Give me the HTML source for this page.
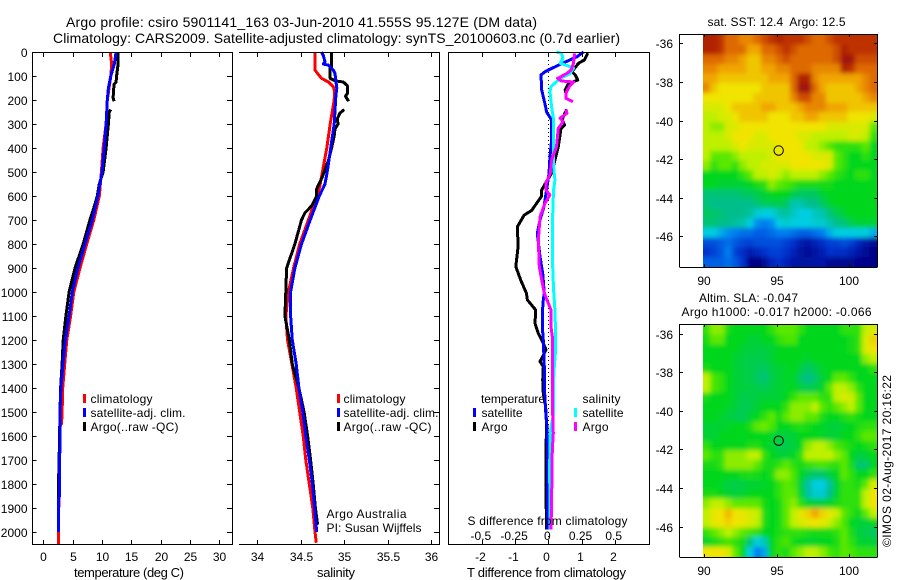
<!DOCTYPE html>
<html><head><meta charset="utf-8"><title>Argo profile</title>
<style>
html,body{margin:0;padding:0;background:#fff;width:900px;height:580px;overflow:hidden}
svg{display:block}
text{font-family:"Liberation Sans",sans-serif;font-size:12px;fill:#000}
.t{font-size:14px}
.lab{font-size:13px}
</style></head><body>
<svg id="chart" width="900" height="580" viewBox="0 0 900 580" xmlns="http://www.w3.org/2000/svg">
<defs>
<filter id="soft" filterUnits="userSpaceOnUse" x="640" y="0" width="260" height="580"><feGaussianBlur stdDeviation="2.4"/></filter>
<clipPath id="clip1"><rect x="703" y="35" width="174" height="232"/></clipPath>
<clipPath id="clip2"><rect x="703" y="325" width="174" height="232"/></clipPath>
</defs>
<rect x="0" y="0" width="900" height="580" fill="#fff"/>
<text class="t" x="66" y="27" textLength="471" lengthAdjust="spacing">Argo profile: csiro 5901141_163 03-Jun-2010 41.555S 95.127E (DM data)</text>
<text class="t" x="53" y="43" textLength="567" lengthAdjust="spacing">Climatology: CARS2009. Satellite-adjusted climatology: synTS_20100603.nc (0.7d earlier)</text>
<g clip-path="url(#clip1)"><g id="heat1" filter="url(#soft)"></g></g>
<g clip-path="url(#clip2)"><g id="heat2" filter="url(#soft)"></g></g>
<g id="marks"></g>
<g id="axes" stroke="#000" stroke-width="1" shape-rendering="crispEdges"></g>
<g id="ticklabels"></g>

<text class="lab" x="74" y="577" textLength="110" lengthAdjust="spacing">temperature (deg C)</text>
<text class="lab" x="317" y="577" textLength="38" lengthAdjust="spacing">salinity</text>
<text class="lab" x="467" y="577" textLength="159" lengthAdjust="spacing">T difference from climatology</text>
<text x="467.5" y="525" textLength="160" lengthAdjust="spacing">S difference from climatology</text>

<g>
<rect x="83" y="394" width="3" height="9" fill="#f00"/>
<rect x="83" y="408" width="3" height="9" fill="#00f"/>
<rect x="83" y="422" width="3" height="9" fill="#000"/>
<text x="90.5" y="403" textLength="62" lengthAdjust="spacing">climatology</text>
<text x="90.5" y="417" textLength="95" lengthAdjust="spacing">satellite-adj. clim.</text>
<text x="90.5" y="431" textLength="88" lengthAdjust="spacing">Argo(..raw -QC)</text>
</g>
<g>
<rect x="337" y="394" width="3" height="9" fill="#f00"/>
<rect x="337" y="408" width="3" height="9" fill="#00f"/>
<rect x="337" y="422" width="3" height="9" fill="#000"/>
<text x="343.5" y="403" textLength="62" lengthAdjust="spacing">climatology</text>
<text x="343.5" y="417" textLength="95" lengthAdjust="spacing">satellite-adj. clim.</text>
<text x="343.5" y="431" textLength="88" lengthAdjust="spacing">Argo(..raw -QC)</text>
<text x="326.5" y="518" textLength="80" lengthAdjust="spacing">Argo Australia</text>
<text x="326.5" y="532" textLength="95" lengthAdjust="spacing">PI: Susan Wijffels</text>
</g>
<g>
<text x="481" y="403" textLength="64" lengthAdjust="spacing">temperature</text>
<text x="582.5" y="403" textLength="38" lengthAdjust="spacing">salinity</text>
<rect x="473" y="408" width="3" height="9" fill="#00f"/>
<rect x="473" y="422" width="3" height="9" fill="#000"/>
<rect x="574" y="408" width="3" height="9" fill="#0ff"/>
<rect x="574" y="422" width="3" height="9" fill="#f0f"/>
<text x="481.5" y="417" textLength="41" lengthAdjust="spacing">satellite</text>
<text x="481.5" y="431" textLength="26" lengthAdjust="spacing">Argo</text>
<text x="582.5" y="417" textLength="41" lengthAdjust="spacing">satellite</text>
<text x="582.5" y="431" textLength="26" lengthAdjust="spacing">Argo</text>
</g>

<text x="707.5" y="26" xml:space="preserve" textLength="138" lengthAdjust="spacing">sat. SST: 12.4  Argo: 12.5</text>
<text x="699" y="302" textLength="99" lengthAdjust="spacing">Altim. SLA: -0.047</text>
<text x="681.5" y="316" textLength="190" lengthAdjust="spacing">Argo h1000: -0.017 h2000: -0.066</text>
<text x="0" y="0" transform="translate(891,547) rotate(-90)" textLength="172" lengthAdjust="spacing">©IMOS 02-Aug-2017 20:16:22</text>
</svg>
<script>
// ---- profile data -------------------------------------------------------
const depthTicks = [0,100,200,300,400,500,600,700,800,900,1000,1100,1200,1300,1400,1500,1600,1700,1800,1900,2000];
const tempTicks = [0,5,10,15,20,25,30];
const salTicks = [34,34.5,35,35.5,36];
const salTickLabels = ['34','34.5','35','35.5','36'];
const tDiffTicks = [-2,-1,0,1,2];
const tDiffLabels = ['-2','-1','0','1','2'];
const sDiffTicks = [-0.5,-0.25,0,0.25,0.5];
const sDiffLabels = ['-0.5','-0.25','0','0.25','0.5'];
const lonTicks = [90,95,100];
const latTicks = [-36,-38,-40,-42,-44,-46];
const floatLon = 95.127;
const floatLat = -41.555;

const climTempDepth = [0,50,100,200,300,400,500,600,700,800,900,1000,1100,1200,1300,1400,1500,1550,1551,2000,2050];
const climTemp = [11.4,11.65,11.5,10.9,10.7,10.2,9.9,9.55,8.6,7.4,6.25,5.2,4.65,4,3.65,3.3,3.2,3.1,2.9,2.55,2.55];
const satTempDepth = [0,50,100,150,200,300,400,500,600,700,800,900,1000,1100,1200,1300,1400,1500,1650,1700,1850,1870,2000];
const satTemp = [12.4,12.1,11.5,11.1,10.9,10.7,10.4,10,9.3,8.35,7.1,5.9,4.95,4.4,3.75,3.35,3,2.85,2.85,2.75,2.75,2.55,2.55];
const argoTempDepth = [5,60,100,125,135,190,205,222,240,250,300,400,500,550,600,650,700,800,900,1000,1100,1200,1300,1400,1500,1640,1840,1990];
const argoTemp = [12.7,12.7,12.5,12.4,12.05,11.9,12.05,null,11.5,11.25,11.1,10.7,10.2,9.55,9.2,8.6,7.95,6.8,5.4,4.4,3.85,3.4,3.2,2.95,2.85,2.75,2.55,2.55];

const climSalDepth = [0,75,85,110,125,145,165,200,300,400,500,560,600,700,800,900,1000,1100,1200,1300,1400,1500,1600,1700,1800,1900,2000,2045];
const climSal = [34.665,34.665,34.685,34.74,34.82,34.875,34.89,34.885,34.84,34.8,34.75,34.72,34.685,34.59,34.49,34.42,34.36,34.33,34.35,34.4,34.45,34.49,34.53,34.56,34.6,34.64,34.665,34.68];
const satSalDepth = [0,15,40,50,55,75,90,150,180,300,400,500,550,600,700,800,900,1000,1100,1200,1300,1400,1500,1600,1700,1800,1900,2000];
const satSal = [34.74,34.76,34.78,34.76,34.82,34.875,34.895,34.915,34.905,34.885,34.845,34.805,34.78,34.715,34.61,34.51,34.435,34.385,34.385,34.405,34.45,34.48,34.525,34.56,34.6,34.635,34.66,34.685];
const argoSalDepth = [5,60,65,110,120,125,140,170,185,205,222,240,255,280,300,320,350,400,450,520,570,580,600,640,670,700,800,900,1000,1100,1200,1300,1400,1500,1600,1700,1800,1900,1970];
const argoSal = [34.855,34.855,34.84,34.84,34.895,34.99,35.035,35.04,35.015,35.05,null,35,34.95,34.92,34.93,34.895,34.885,34.855,34.82,34.75,34.685,34.68,34.685,34.63,34.55,34.51,34.435,34.34,34.33,34.32,34.37,34.405,34.48,34.54,34.58,34.615,34.645,34.67,34.695];

const diffSatTDepth = [0,20,55,82,96,158,228,250,283,367,436,506,575,644,700,755,853,922,1005,1033,1089,1144,1200,1311,1394,1519,1561,1728,1990];
const diffSatT = [1.06,0.86,0.3,-0.1,-0.22,-0.2,-0.08,-0.05,0.1,0.1,0.05,0.02,-0.05,-0.13,-0.25,-0.33,-0.25,-0.17,-0.12,-0.15,-0.18,-0.18,-0.15,-0.12,-0.12,-0.07,-0.04,-0.02,-0.02];
const diffArgoTDepth = [5,33,47,82,96,117,131,158,170,205,239,280,305,320,395,450,505,550,575,600,630,660,680,728,811,894,950,1005,1033,1075,1130,1172,1214,1241,1290,1311,1366,1422,1477,1547,1658,1728,1839,1990];
const diffArgoT = [1.19,1.09,0.91,0.71,0.81,0.89,0.61,0.51,0.52,null,0.55,0.42,0.49,0.38,0.3,0.2,0.1,-0.1,-0.2,-0.2,-0.35,-0.5,-0.73,-0.93,-0.91,-0.98,-0.83,-0.66,-0.63,-0.38,-0.4,-0.3,-0.15,-0.07,-0.25,-0.15,-0.17,-0.15,-0.08,-0.05,-0.07,-0.07,-0.07,-0.05];
const diffSatSDepth = [0,6,26,47,58,68,89,110,144,165,228,283,367,478,533,575,644,755,853,992,1075,1172,1241,1311,1366,1505,1547,1589,1728,1866,1990];
const diffSatS = [0.06,0.1,0.11,0.09,0.15,0.19,0.165,0.09,0.02,0.013,0.025,0.04,0.04,0.04,0.05,0.04,0.035,0.03,0.03,0.04,0.05,0.055,0.055,0.045,0.04,0.04,0.025,0.015,0.01,0.012,0.012];
const diffArgoSDepth = [6,47,75,89,110,121,125,144,172,193,207,222,239,256,276,290,318,394,450,506,547,575,596,630,686,783,894,950,1005,1075,1144,1186,1283,1450,1589,1658,1866,1990];
const diffArgoS = [0.198,0.19,0.172,0.14,0.07,0.1,0.19,0.158,0.132,0.132,0.185,null,0.132,0.14,0.088,0.112,0.075,0.062,0.025,0.015,-0.018,-0.018,0.012,-0.025,-0.062,-0.075,-0.068,-0.05,-0.03,0.02,0.02,0.03,0.03,0.03,0.038,0.03,0.025,0.02];

// ---- map data: colour index by row (north to south), column (west to east) ----
const sstGrid = [
[11.5,11.5,11,10,10,9.5,9.5,10,10.5,11,11.5,11,11,11,10.5,10,10,10.5,11,11,11,11,11,11],
[11.5,11.5,11,10,10,10,9,9,10,10,10.5,11,10.5,10,10,10,10,10,10.5,11.5,11,11,11,11],
[10,10,10,9.5,9.5,9,8.5,8.5,9.5,9.5,10,10.5,10,10,10,10,10,10,10.5,12,12,10.5,10.5,10.5],
[9.5,9.5,9,9,9,9,8.5,8.5,9,9,9.5,9.5,10,10,10,9.5,9.5,9.5,9.5,11.5,11,10,10,10],
[9,9,8.5,8.5,8.5,8.5,8.5,8.5,8.5,9,9,9,10,11.5,11.5,9.5,9,9,9,9,9,9,9.5,10],
[9.5,8.5,8,8,8,8,8,8,8.5,8.5,8.5,8.5,10,12,12,10,9,8.5,8.5,8.5,8.5,9,9.5,10],
[8,8,8,8,8,8,8,8.5,8.5,8.5,8.5,8.5,9.5,10.5,10.5,9.5,9.5,8.5,8.5,8.5,8.5,8.5,9,9.5],
[7.5,7.5,7.5,8,8.5,8.5,8.5,8.5,9,9,8.5,8.5,8.5,9,9.5,9.5,9.5,9,9,9,8.5,8.5,8.5,8.5],
[7,7,7.5,7.5,8,8.5,8.5,8.5,8.5,8,8,8,8.5,8.5,9,9,8.5,8.5,8.5,8.5,8,8,8,7.5],
[7,6.5,6.5,7.5,7.5,8,8,8,8,8,8,8,8,8,8,8,8,7.5,7.5,7.5,7.5,7.5,7.5,6],
[7,7,7,7.5,8,8,8,7.5,7.5,8,8,8,8,7.5,7.5,7,7,7,7,7,7.5,7.5,7,5.5],
[7,7,7,7,7.5,8,7.5,7.5,7.5,7.5,8,8,8,8,7,7,6.5,6,5.5,5.5,5.5,5.5,6,5],
[7,6,6,6,6.5,7,7,7,7,7.5,8,8,8,8,8,7.5,7.5,7.5,6,5.5,5,5,5.5,5],
[6.5,5.5,6,6,5.5,6.5,7,7,7.5,7.5,7.5,7.5,8,8,8,8,8,7.5,6,5.5,5,5,5,5],
[5,5,5,5,5,5.5,6,7,7,7.5,7,6.5,7,7,7,7,6.5,6,5.5,5.2,5,5.5,5.5,5],
[5,5,4.8,4.8,4.8,4.8,5,5.2,5.5,6.5,6,5.8,5.5,5.2,5.2,5.2,5.2,5.2,5,5,5,5,5,5],
[4.2,4.2,4.2,4.2,4.2,4.4,4.4,4.6,4.8,5,5,5,4.6,4.4,4.4,4.4,4.8,5,5,5,5,5,5,5],
[4.2,4,4,4,4,4,4,4.2,4.5,4.5,4.6,4.4,3.6,3.6,4,4,4.4,4.8,5,5,5,5,5,5],
[4.4,4.3,4.2,4,4,4,3.8,3.2,3,3,3.6,3.8,3.4,3,3,3.4,3.6,4.2,4.5,4.8,5,5,5,5],
[4.2,4.2,4,4,3.8,3.6,3,2.2,2,2.2,3,3.2,3,3,3,3.2,3.2,3.6,4,4.2,4.6,4.8,4.8,4.8],
[3,3,2.6,2.2,2,1.8,1.8,1.6,1.6,1.8,2,2,1.8,1.6,1.6,1.8,2,2.6,3,3,3,3,3,2.6],
[1.4,1.4,1.6,1.8,1.5,1.3,1.2,1.4,1.4,1.4,1.4,1.2,1,0.6,0.5,0.7,0.9,1.2,1.2,1.4,1.2,0.8,0.5,0.3],
[1,1.2,1.5,2,1.2,0.9,0.6,0.8,1,1.2,1.2,1,0.7,0.4,0.3,0.4,0.6,1,0.9,0.9,0.7,0.5,0.2,0.1],
[1.6,1.6,1.6,1.8,1.5,1,0.1,0,0.2,0.8,1,0.7,0.5,0.4,0.4,0.5,0.5,0.2,0.2,0.2,0.2,0.1,0.1,0.1]
];
const slaGrid = [
[5.5,6.5,6.5,5.2,5,5,5,5,5,5.5,6,6,6,5.5,5,5,5,5,5,5.5,5.5,5.5,7,7.5],
[5.2,6,6,5,5,5,4.8,4.8,5,5,5.5,5.8,5.8,5,5,5,5,5,5,5,5.2,5.5,7.5,8.3],
[5,5,5,5,5,4.8,4.7,4.7,4.7,4.8,5,5,5,5,5,5,5,5,5,5,5.2,5.5,7.5,8],
[5,5,5,5,4.8,4.7,4.6,4.6,4.6,4.8,5,5,5,5,4.8,5,5,5,5,5,5,5,6.5,7],
[5.2,5,5,5,4.8,4.7,4.6,4.5,4.4,4.7,4.8,4.9,5,4.7,4.4,4.6,4.9,5,5,5,5,5,5,5.5],
[7,5.8,5.5,5,4.8,4.7,4.6,4.4,4.2,4.6,4.8,4.9,4.9,4.4,4,4.3,4.8,5,6,6,5.5,5,5,5],
[7,5.8,5.5,5,4.8,4.7,4.7,4.6,4.5,4.7,4.8,4.9,5,4.7,4.5,4.6,4.9,6,7,7,6.5,5.5,5,5],
[5.2,5,5,5,4.8,4.6,4.6,4.7,4.8,4.8,4.8,5,5.5,6,6,6,5.5,5.5,7,7.5,7.3,6,5,5],
[5,5,5,4.9,4.7,4.5,4.6,4.8,5,5,5,5.5,6.5,6.5,6.5,7,6,5.5,6,6.5,7,6,5,5],
[5,5,4.9,4.7,4.6,4.5,4.8,5,5.5,6,5.2,6,6.5,6.5,6,6,5.3,5,5,5.3,5.5,5.2,5,5],
[4.8,4.8,4.8,4.9,5,5,5.3,6,6.2,5.8,5,5,5.2,5.4,5.2,5,4.9,4.8,4.7,4.9,5,5.3,5.5,5.5],
[4.8,4.8,5,5,5,5,5,5,5,4.9,4.7,4.7,4.8,5,5,5,4.9,4.8,4.8,5,5,5.5,6,6],
[5.5,5,5,5,5,5,5.3,5.3,5,4.8,4.6,4.6,4.7,5,6.5,7,7,6.5,5.8,5.5,5.2,5,5.2,5.5],
[6,5.5,5.5,6.5,6.5,6.5,7,7,5.5,5,4.8,4.8,4.9,5.5,7,7,7,7.2,6.5,6,5,4.7,4.8,5],
[5.2,5.2,5.5,6.5,6.5,6.5,6.5,6,5.3,5.2,5.5,6,5.5,5.2,5.5,5.7,5.8,5.6,5.5,6,5.2,4.3,4.3,5],
[5,5,5,5,5,5.2,5.3,5.2,5,5.3,6.5,6.5,5.8,5,4.5,4.3,4.3,4.7,5,6,5.5,5,5,5.5],
[5,5,4.9,4.7,4.6,4.7,4.8,4.8,4.9,5,5.5,6,5.8,4.8,3.8,3,3,3.8,4.8,5.5,5.5,5.2,6,7.5],
[5.2,5.2,5,4.8,4.7,4.8,5,5,5,5,5.5,6,6,4.9,3.8,3.2,3.2,4,4.9,5.5,5.5,5.5,7,8],
[6.5,7,7,6.5,6,6,6,6,5.2,5,5.2,6,6.5,5.5,4.9,4.7,4.7,4.9,5.2,5.5,5.5,5.5,7,8],
[7,7.8,8,8.7,8,7.8,7.5,7.2,5.3,5,5.2,6,7,7.8,8.3,9,8.3,7.8,7.2,6,5.5,5,6,7],
[7,7.8,8,8.3,8,7.8,7.5,7,5.3,5,5.2,6,7,7.5,7.8,8,7.8,7.2,6.5,5.8,5,4.8,4.7,5],
[5.5,6,6.5,7,6.5,6,5.7,5.5,5,5,5.3,5.5,5.5,5.5,5.3,5.2,5.2,5.2,5.5,6,5.3,4.7,4.6,4.4],
[4.9,5.2,5.5,5.8,5.5,5.2,4.2,3,3.5,5,5.5,5.8,5.2,5,4.9,4.9,5,5,5.3,6,5.5,4.9,4.8,4.8],
[8,8,8,7.5,6,5,3,2,2.5,5,5.5,5.2,6,6.5,7,7,6.5,5.8,5.5,6,5.8,5.5,5.5,5.5]
];

// ---- scales -------------------------------------------------------------
const SVGNS = 'http://www.w3.org/2000/svg';
function yDepth(d){ return 52 + 0.24*d; }
function xTemp(v){ return 43.3 + 5.867*v; }
function xSal(v){ return 257 + 87.2*(v-34); }
function xTDiff(v){ return 548.3 + 33.2*v; }
function xSDiff(v){ return 548.3 + 132.8*v; }
function xLon(v){ return 704.3 + 14.5*(v-90); }
function yLat1(v){ return 43.3 + 19.3*(-36-v); }
function yLat2(v){ return 333.5 + 19.3*(-36-v); }
function mk(tag, attrs, parent){
  const e = document.createElementNS(SVGNS, tag);
  for (const k in attrs) e.setAttribute(k, attrs[k]);
  parent.appendChild(e);
  return e;
}

// ---- colormap -----------------------------------------------------------
function cmap(v){
  const c = [[0,0,130],[0,50,205],[0,125,240],[0,205,225],[0,190,140],[0,215,30],[90,232,0],[190,240,0],[240,228,0],[240,165,0],[222,105,0],[190,50,0],[160,20,10]];
  const t = Math.max(0, Math.min(12, v));
  const i = Math.min(11, Math.floor(t));
  const f = t - i;
  const out = [0,1,2].map(function(k){ return Math.round(c[i][k] + (c[i+1][k]-c[i][k])*f); });
  return 'rgb(' + out.join(',') + ')';
}

// ---- heatmaps: outer ring of cells repeats the edge so the blur does not fade at the clip ----
function drawHeat(gid, grid, left, top, w, h, nameBase){
  const g = document.getElementById(gid);
  const rows = grid.length;
  const cols = grid[0].length;
  const pad = 2;
  for (let r = -pad; r < rows + pad; r++) {
    for (let c = -pad; c < cols + pad; c++) {
      const v = grid[Math.max(0, Math.min(rows-1, r))][Math.max(0, Math.min(cols-1, c))];
      const x0 = left + w*c/cols, x1 = left + w*(c+1)/cols;
      const y0 = top + h*r/rows, y1 = top + h*(r+1)/rows;
      const cell = mk('rect', {x:x0.toFixed(2), y:y0.toFixed(2), width:(x1-x0+0.4).toFixed(2), height:(y1-y0+0.4).toFixed(2), fill:cmap(v), 'shape-rendering':'crispEdges'}, g);
      
      
    }
  }
}
drawHeat('heat1', sstGrid, 703, 35, 173.5, 231.5, 'sst-cell');
drawHeat('heat2', slaGrid, 703, 325, 173.5, 231.5, 'sla-cell');

// ---- profile lines ------------------------------------------------------
const marks = document.getElementById('marks');
function drawLine(depths, values, xf, color, name){
  let seg = [];
  function flush(){
    if (seg.length > 1) {
      const line = mk('polyline', {points:seg.join(' '), fill:'none', stroke:color, 'stroke-width':3, 'stroke-linejoin':'round', 'shape-rendering':'crispEdges'}, marks);
      
      
    }
    seg = [];
  }
  depths.forEach(function(d, i){
    if (values[i] === null) { flush(); }
    else { seg.push(xf(values[i]).toFixed(1) + ',' + yDepth(d).toFixed(1)); }
  });
  flush();
}
const zeroLine = mk('line', {x1:xTDiff(0), x2:xTDiff(0), y1:52, y2:545, stroke:'#000', 'stroke-width':1, 'stroke-dasharray':'1 3', 'shape-rendering':'crispEdges'}, marks);



drawLine(climTempDepth, climTemp, xTemp, '#f00', 'temperature-climatology-line');
drawLine(argoTempDepth, argoTemp, xTemp, '#000', 'temperature-argo-line');
drawLine(satTempDepth, satTemp, xTemp, '#00f', 'temperature-satellite-line');
drawLine(climSalDepth, climSal, xSal, '#f00', 'salinity-climatology-line');
drawLine(argoSalDepth, argoSal, xSal, '#000', 'salinity-argo-line');
drawLine(satSalDepth, satSal, xSal, '#00f', 'salinity-satellite-line');
drawLine(diffArgoTDepth, diffArgoT, xTDiff, '#000', 't-difference-argo-line');
drawLine(diffSatTDepth, diffSatT, xTDiff, '#00f', 't-difference-satellite-line');
drawLine(diffSatSDepth, diffSatS, xSDiff, '#0ff', 's-difference-satellite-line');
drawLine(diffArgoSDepth, diffArgoS, xSDiff, '#f0f', 's-difference-argo-line');

// ---- axes ---------------------------------------------------------------
const axes = document.getElementById('axes');
const labelsG = document.getElementById('ticklabels');
function seg(x1,y1,x2,y2,name){
  const l = mk('line', {x1:x1, y1:y1, x2:x2, y2:y2}, axes);
  
  
}
function lab(x,y,s,anchor,name){
  const t = mk('text', {x:x, y:y, 'text-anchor':anchor}, labelsG);
  t.textContent = s;
  
  
}
// temperature panel frame
seg(32.5,52.5,232.5,52.5,'temperature-panel-top');
seg(32.5,544.5,232.5,544.5,'temperature-panel-bottom');
seg(32.5,52,32.5,545,'temperature-panel-left');
seg(232.5,52,232.5,545,'temperature-panel-right');
// salinity panel frame (no left spine)
seg(239,52.5,439.5,52.5,'salinity-panel-top');
seg(239,544.5,439.5,544.5,'salinity-panel-bottom');
seg(439.5,52,439.5,545,'salinity-panel-right');
// difference panel frame
seg(448.5,52.5,649.5,52.5,'difference-panel-top');
seg(448.5,544.5,649.5,544.5,'difference-panel-bottom');
seg(448.5,52,448.5,545,'difference-panel-left');
seg(649.5,52,649.5,545,'difference-panel-right');

depthTicks.forEach(function(d){
  const y = Math.round(yDepth(d)) + 0.5;
  seg(32.5,y,36.5,y,'depth-tick-left');
  seg(227,y,232.5,y,'depth-tick-right');
  seg(434,y,439.5,y,'depth-tick-right-salinity');
  lab(27.5,y+4.5,String(d),'end','depth-tick-label');
});
tempTicks.forEach(function(v){
  const x = Math.round(xTemp(v)) + 0.5;
  seg(x,52,x,57,'temperature-tick-top');
  seg(x,540,x,545,'temperature-tick-bottom');
  lab(x,561,String(v),'middle','temperature-tick-label');
});
salTicks.forEach(function(v,i){
  const x = Math.round(xSal(v)) + 0.5;
  seg(x,52,x,57,'salinity-tick-top');
  seg(x,540,x,545,'salinity-tick-bottom');
  lab(x,561,salTickLabels[i],'middle','salinity-tick-label');
});
tDiffTicks.forEach(function(v,i){
  const x = Math.round(xTDiff(v)) + 0.5;
  seg(x,52,x,57,'t-difference-tick-top');
  seg(x,540,x,545,'t-difference-tick-bottom');
  lab(x-2,561,tDiffLabels[i],'middle','t-difference-tick-label');
});
sDiffTicks.forEach(function(v,i){
  lab(xSDiff(v)-1,540,sDiffLabels[i],'middle','s-difference-tick-label');
});

function mapFrame(top,bottom,yf,prefix){
  seg(679.5,top+0.5,877.5,top+0.5,prefix+'-map-top');
  seg(679.5,bottom+0.5,877.5,bottom+0.5,prefix+'-map-bottom');
  seg(679.5,top,679.5,bottom,prefix+'-map-left');
  seg(877.5,top,877.5,bottom,prefix+'-map-right');
  lonTicks.forEach(function(v){
    const x = Math.round(xLon(v)) + 0.5;
    seg(x,top,x,top+3,prefix+'-lon-tick-top');
    seg(x,bottom-3,x,bottom,prefix+'-lon-tick-bottom');
    lab(x-0.5,bottom+18,String(v),'middle',prefix+'-lon-tick-label');
  });
  latTicks.forEach(function(v){
    const y = Math.round(yf(v)) + 0.5;
    seg(679.5,y,683,y,prefix+'-lat-tick-left');
    seg(874,y,877.5,y,prefix+'-lat-tick-right');
    lab(673,y+4.5,String(v),'end',prefix+'-lat-tick-label');
  });
}
mapFrame(34,267,yLat1,'sst');
mapFrame(324,557,yLat2,'sla');

const circ1 = mk('circle', {cx:xLon(floatLon), cy:yLat1(floatLat), r:4.7, fill:'none', stroke:'#000', 'stroke-width':1}, labelsG);


const circ2 = mk('circle', {cx:xLon(floatLon), cy:yLat2(floatLat), r:4.7, fill:'none', stroke:'#000', 'stroke-width':1}, labelsG);


</script>
</body></html>
